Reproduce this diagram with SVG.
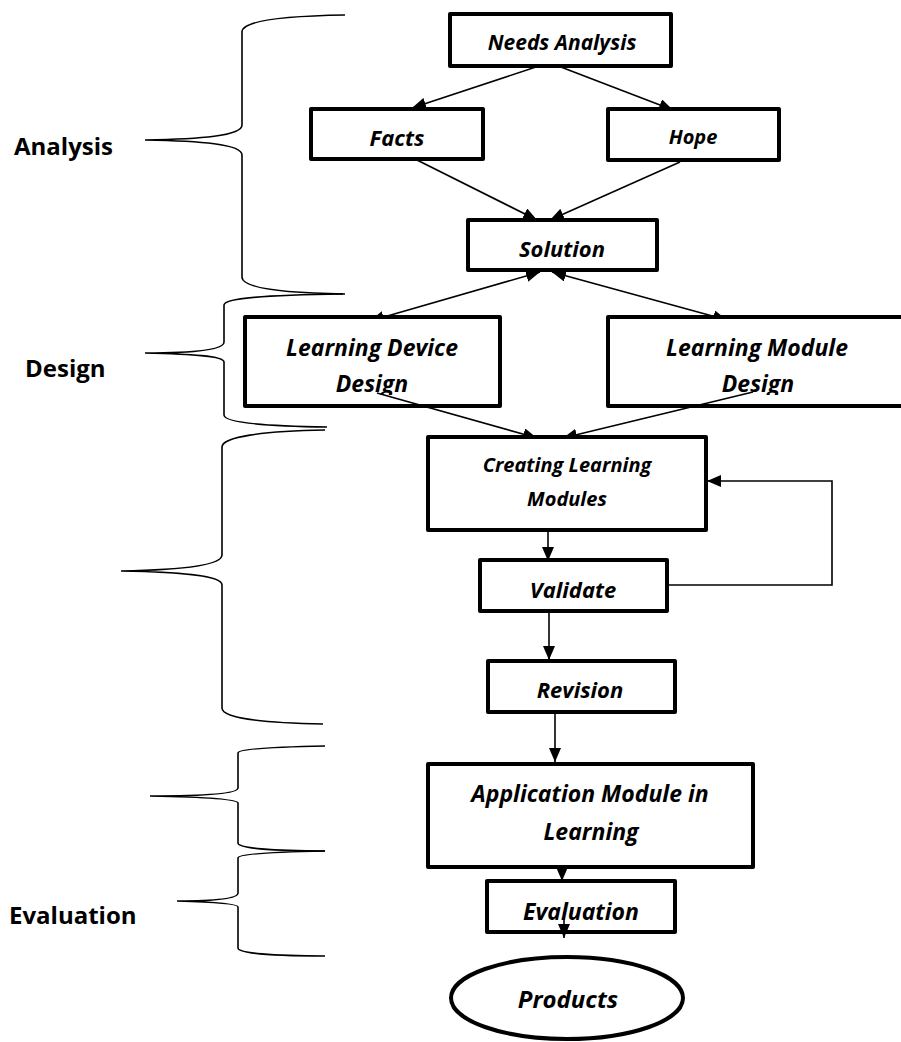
<svg xmlns="http://www.w3.org/2000/svg" width="901" height="1042" viewBox="0 0 901 1042">
<style>
.box{fill:#fff;stroke:#000;stroke-width:4;stroke-linejoin:round}
.nt{font-family:"Open Sans","Liberation Sans",sans-serif;font-weight:bold;font-style:italic;fill:#000;text-anchor:middle}
.lab{font-family:"Open Sans","Liberation Sans",sans-serif;font-weight:bold;font-size:24px;fill:#000}
.con{fill:none;stroke:#000;stroke-width:1.6}
.brace{fill:none;stroke:#000;stroke-width:1.6}
</style>
<defs>
<marker id="ah" markerUnits="userSpaceOnUse" markerWidth="14" markerHeight="12" refX="14" refY="6" orient="auto-start-reverse">
<path d="M0,0 L14,6 L0,12 z" fill="#000"/>
</marker>
<clipPath id="clipL"><rect x="240" y="310" width="270" height="85"/></clipPath>
<clipPath id="clipR"><rect x="600" y="310" width="310" height="85"/></clipPath>
</defs>
<rect width="901" height="1042" fill="#fff"/>

<g id="braces">
<path class="brace" d="M345,15 C280,16 242,21 242,32 L242,125 C242,136 200,139 145,140 C200,141 242,144 242,155 L242,277 C242,288 280,293 345,294"/>
<path class="brace" d="M343,294 C265,295 224,298 224,305 L224,342 C224,350 190,353 145,353 C190,354 224,356 224,362 L224,415 C224,422 260,426 327,427"/>
<path class="brace" d="M325,430 C262,431 222,437 222,447 L222,555 C222,566 175,570 121,571 C175,572 222,575 222,585 L222,708 C222,718 262,723 323,724"/>
<path class="brace" d="M325,746 C272,747 238,749 238,753 L238,788 C238,794 200,796 150,796 C200,797 238,799 238,803 L238,843 C238,848 272,851 325,851"/>
<path class="brace" d="M325,851 C272,852 238,854 238,858 L238,893 C238,899 212,901 177,901 C212,902 238,904 238,907 L238,948 C238,953 272,956 325,956"/>
</g>

<g id="labels">
<text class="lab" x="14" y="155">Analysis</text>
<text class="lab" x="25" y="377">Design</text>
<text class="lab" x="9" y="924">Evaluation</text>
</g>

<g id="connectors">
<path class="con" d="M545,64 L412,108" marker-end="url(#ah)"/>
<path class="con" d="M553,64 L673,110" marker-end="url(#ah)"/>
<path class="con" d="M417,160 L537,220" marker-end="url(#ah)"/>
<path class="con" d="M680,162 L550,220" marker-end="url(#ah)"/>
<path class="con" d="M540,272 L370,321" marker-start="url(#ah)" marker-end="url(#ah)"/>
<path class="con" d="M552,272 L727,320" marker-start="url(#ah)" marker-end="url(#ah)"/>
<path class="con" d="M548,530 L548,561" marker-end="url(#ah)"/>
<path class="con" d="M667,585 L832,585 L832,481 L707,481" marker-end="url(#ah)"/>
<path class="con" d="M549,611 L549,660" marker-end="url(#ah)"/>
<path class="con" d="M555,712 L555,762" marker-end="url(#ah)"/>
<path class="con" d="M562,866 L562,881" marker-end="url(#ah)"/>
</g>

<g id="needs-analysis">
<rect class="box" x="450" y="14" width="221" height="52"/>
<text class="nt" x="562" y="50" font-size="21">Needs Analysis</text>
</g>
<g id="facts">
<rect class="box" x="311" y="109" width="172" height="50"/>
<text class="nt" x="397" y="146" font-size="22">Facts</text>
</g>
<g id="hope">
<rect class="box" x="608" y="109" width="171" height="51"/>
<text class="nt" x="693" y="144" font-size="20">Hope</text>
</g>
<g id="solution">
<rect class="box" x="468" y="220" width="189" height="50"/>
<text class="nt" x="562" y="257" font-size="22">Solution</text>
</g>
<g id="learning-device-design">
<rect class="box" x="245" y="317" width="255" height="89"/>
<g clip-path="url(#clipL)">
<text class="nt" x="372" y="356" font-size="23">Learning Device</text>
<text class="nt" x="372" y="392" font-size="23">Design</text>
</g>
</g>
<g id="learning-module-design">
<rect class="box" x="608" y="317" width="300" height="89"/>
<g clip-path="url(#clipR)">
<text class="nt" x="757" y="356" font-size="23">Learning Module</text>
<text class="nt" x="758" y="392" font-size="23">Design</text>
</g>
</g>
<g id="design-links">
<path class="con" d="M377,393 L537,438" marker-end="url(#ah)"/>
<path class="con" d="M753,392 L563,438" marker-end="url(#ah)"/>
</g>
<g id="creating-learning-modules">
<rect class="box" x="428" y="437" width="278" height="93"/>
<text class="nt" x="567" y="472" font-size="20">Creating Learning</text>
<text class="nt" x="567" y="506" font-size="20">Modules</text>
</g>
<g id="validate">
<rect class="box" x="480" y="560" width="187" height="51"/>
<text class="nt" x="573" y="598" font-size="22">Validate</text>
</g>
<g id="revision">
<rect class="box" x="488" y="661" width="187" height="51"/>
<text class="nt" x="580" y="698" font-size="22">Revision</text>
</g>
<g id="application-module">
<rect class="box" x="428" y="764" width="325" height="103"/>
<text class="nt" x="590" y="802" font-size="23">Application Module in</text>
<text class="nt" x="591" y="840" font-size="23">Learning</text>
</g>
<g id="evaluation">
<rect class="box" x="487" y="881" width="188" height="51"/>
<text class="nt" x="581" y="920" font-size="23">Evaluation</text>
</g>
<g id="eval-link">
<path class="con" d="M564,912 L564,938" marker-end="url(#ah)"/>
</g>
<g id="products">
<ellipse cx="567" cy="998" rx="116" ry="41" fill="#fff" stroke="#000" stroke-width="4"/>
<text class="nt" x="568" y="1008" font-size="24">Products</text>
</g>
</svg>
